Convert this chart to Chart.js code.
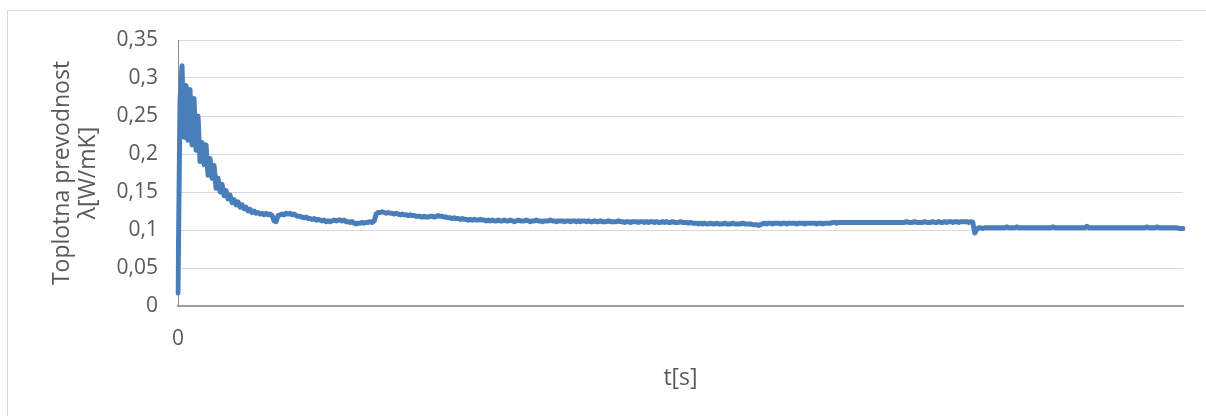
<!DOCTYPE html>
<html>
<head>
<meta charset="utf-8">
<script src="https://cdn.jsdelivr.net/npm/chart.js@4"></script>
<style>
  html, body { margin: 0; padding: 0; background: #ffffff; }
  #wrap { position: relative; width: 1206px; height: 416px; }
</style>
</head>
<body>
<div id="wrap"><canvas id="chart" width="1206" height="416"></canvas></div>
<script>
// Thermal conductivity λ [W/mK] logged over time, one sample per step.
// Start-up transient: steep rise, noisy peak, then decay.
const lambdaRise = [
  0.017, 0.27, 0.316, 0.222, 0.29, 0.218, 0.285, 0.212, 0.273, 0.205,
  0.25, 0.19, 0.215, 0.186, 0.212, 0.172, 0.194, 0.168, 0.185, 0.155,
  0.168, 0.15, 0.16, 0.145, 0.152, 0.141, 0.146, 0.136, 0.14, 0.133,
  0.137, 0.13, 0.133, 0.128, 0.13, 0.125, 0.127, 0.123, 0.125, 0.122,
  0.123, 0.121, 0.122, 0.12, 0.122, 0.12, 0.121, 0.119
];
// First plateau, slowly sinking.
const lambdaFirstPlateau = [
  0.112, 0.111, 0.119, 0.12, 0.121, 0.12, 0.122, 0.121, 0.122, 0.12,
  0.121, 0.119, 0.118, 0.118, 0.117, 0.116, 0.117, 0.115, 0.115, 0.114,
  0.115, 0.113, 0.114, 0.113, 0.112, 0.113, 0.111, 0.112, 0.111, 0.112,
  0.113, 0.112, 0.113, 0.113, 0.112, 0.113, 0.111, 0.111, 0.11, 0.111,
  0.109, 0.108, 0.109, 0.109, 0.11, 0.109, 0.11, 0.11, 0.111, 0.11,
  0.112
];
// Small step up, then recovery towards the steady value.
const lambdaRecovery = [
  0.121, 0.123, 0.123, 0.124, 0.123, 0.122, 0.123, 0.122, 0.122, 0.121,
  0.122, 0.121, 0.12, 0.121, 0.12, 0.12, 0.119, 0.12, 0.119, 0.119,
  0.118, 0.118, 0.118, 0.117, 0.118, 0.117, 0.117, 0.118, 0.118, 0.117,
  0.118, 0.119, 0.118, 0.118, 0.117, 0.117, 0.116, 0.116, 0.115, 0.116,
  0.115, 0.115, 0.114, 0.115, 0.114, 0.114, 0.113, 0.114, 0.113, 0.114,
  0.113, 0.113, 0.114, 0.113, 0.113, 0.112, 0.113, 0.112, 0.113, 0.112,
  0.112, 0.113, 0.112
];
// Middle of the run.
const lambdaMid = [
  0.112, 0.113, 0.112, 0.112, 0.113, 0.112, 0.111, 0.112, 0.113, 0.112,
  0.112, 0.112, 0.113, 0.112, 0.111, 0.112, 0.112, 0.113, 0.112, 0.112,
  0.111, 0.112, 0.112, 0.112, 0.113, 0.112, 0.112, 0.111, 0.112, 0.112,
  0.112, 0.111, 0.112, 0.112, 0.111, 0.112, 0.112, 0.111, 0.112, 0.111,
  0.112, 0.112, 0.111, 0.112, 0.111, 0.111, 0.112, 0.111, 0.111, 0.112,
  0.111, 0.111, 0.111, 0.112, 0.111, 0.111, 0.111, 0.111, 0.112, 0.111,
  0.111, 0.11, 0.111, 0.111, 0.11, 0.111, 0.111, 0.111, 0.11, 0.111,
  0.111, 0.11, 0.111, 0.11, 0.111, 0.111, 0.11, 0.111, 0.11, 0.11,
  0.111, 0.11, 0.111, 0.11, 0.11, 0.111, 0.11, 0.11, 0.11, 0.111,
  0.11, 0.11, 0.11, 0.109, 0.11, 0.109, 0.109, 0.109, 0.108, 0.109,
  0.108, 0.109, 0.108, 0.108, 0.109, 0.108, 0.108, 0.109, 0.108, 0.108,
  0.108, 0.109, 0.108, 0.108, 0.108, 0.109, 0.108, 0.108, 0.108, 0.108,
  0.109, 0.108, 0.108, 0.108, 0.108, 0.107, 0.107, 0.107, 0.106, 0.107
];
// Late steady section before the final drop.
const lambdaLateSteady = [
  0.108, 0.109, 0.108, 0.109, 0.109, 0.108, 0.109, 0.109, 0.109, 0.108,
  0.109, 0.109, 0.108, 0.109, 0.109, 0.109, 0.109, 0.108, 0.109, 0.109,
  0.109, 0.108, 0.109, 0.109, 0.109, 0.109, 0.109, 0.108, 0.109, 0.109,
  0.108, 0.109, 0.109, 0.109, 0.109,
  0.11, 0.11, 0.109, 0.11, 0.11, 0.11, 0.11, 0.11, 0.11, 0.11,
  0.11, 0.11, 0.11, 0.11, 0.11, 0.11, 0.11, 0.11, 0.11, 0.11,
  0.11, 0.11, 0.11, 0.11, 0.11, 0.11, 0.11, 0.11, 0.11, 0.11,
  0.11, 0.11, 0.11, 0.11, 0.11, 0.11, 0.11, 0.111, 0.11, 0.11,
  0.11, 0.111, 0.11, 0.11, 0.11, 0.11, 0.111, 0.11, 0.11, 0.11,
  0.111, 0.11, 0.11, 0.111, 0.11, 0.11, 0.111, 0.11, 0.111, 0.111,
  0.11, 0.111, 0.111, 0.11, 0.111, 0.111, 0.111, 0.111, 0.11, 0.111,
  0.11
];
// Final level after the drop.
const lambdaFinal = [
  0.096, 0.101, 0.103, 0.103, 0.102, 0.103, 0.103, 0.103, 0.103, 0.103,
  0.103, 0.103, 0.103, 0.103, 0.103, 0.103, 0.104, 0.103, 0.103, 0.103,
  0.103, 0.104, 0.103, 0.103, 0.103, 0.103, 0.103, 0.103, 0.103, 0.103,
  0.103, 0.103, 0.103, 0.103, 0.103, 0.103, 0.103, 0.103, 0.103, 0.104,
  0.103, 0.103, 0.103, 0.103, 0.103, 0.103, 0.103, 0.103, 0.103, 0.103,
  0.103, 0.103, 0.103, 0.103, 0.103, 0.103, 0.105, 0.103, 0.103, 0.103,
  0.103, 0.103, 0.103, 0.103, 0.103, 0.103, 0.103, 0.103, 0.103, 0.103,
  0.103, 0.103, 0.103, 0.103, 0.103, 0.103, 0.103, 0.103, 0.103, 0.103,
  0.103, 0.103, 0.103, 0.103, 0.103, 0.103, 0.104, 0.103, 0.103, 0.103,
  0.103, 0.104, 0.103, 0.103, 0.103, 0.103, 0.103, 0.103, 0.103, 0.103,
  0.103, 0.103, 0.102, 0.102, 0.102
];

const lambda = [].concat(lambdaRise, lambdaFirstPlateau, lambdaRecovery,
                         lambdaMid, lambdaLateSteady, lambdaFinal);
// Sample numbers along the time axis.
const sampleLabels = lambda.map((_, i) => String(i));

const yAxisTitle = ['Toplotna prevodnost', 'λ[W/mK]'];
const xAxisTitle = 't[s]';

const TEXT = '#595959';
const FONT = '"Open Sans", "Liberation Sans", sans-serif';

// Light frame around the chart object.
const framePlugin = {
  id: 'frame',
  beforeDraw(chart) {
    const ctx = chart.ctx;
    ctx.save();
    ctx.fillStyle = '#ffffff';
    ctx.fillRect(0, 0, chart.width, chart.height);
    ctx.strokeStyle = '#d9d9d9';
    ctx.lineWidth = 1;
    ctx.beginPath();
    ctx.moveTo(7.5, chart.height);
    ctx.lineTo(7.5, 10.5);
    ctx.lineTo(chart.width, 10.5);
    ctx.stroke();
    ctx.restore();
  }
};

new Chart(document.getElementById('chart'), {
  type: 'line',
  data: {
    labels: sampleLabels,
    datasets: [{
      data: lambda,
      borderColor: '#4a7ebb',
      borderWidth: 5,
      borderJoinStyle: 'round',
      borderCapStyle: 'round',
      pointRadius: 0,
      tension: 0,
      fill: false
    }]
  },
  options: {
    responsive: false,
    animation: false,
    events: [],
    layout: { padding: { top: 40, right: 23, bottom: 0, left: 0 } },
    plugins: { legend: { display: false }, tooltip: { enabled: false } },
    scales: {
      x: {
        type: 'category',
        offset: false,
        grid: { display: false, drawTicks: false },
        border: { display: true, color: '#a0a0a0', width: 2 },
        ticks: {
          autoSkip: false,
          maxRotation: 0,
          padding: 20,
          color: TEXT,
          font: { family: FONT, size: 21 },
          callback: (v, i) => (i === 0 ? sampleLabels[0] : '')
        },
        title: {
          display: true,
          text: xAxisTitle,
          color: TEXT,
          font: { family: FONT, size: 23, lineHeight: '28px' },
          padding: { top: 0, bottom: 24 }
        },
        afterFit: (s) => { s.height = 110; }
      },
      y: {
        min: 0,
        max: 0.35,
        grid: { color: '#d9d9d9', lineWidth: 1, drawTicks: false },
        border: { display: true, color: '#8c8c8c', width: 1 },
        ticks: {
          stepSize: 0.05,
          padding: 20,
          color: TEXT,
          font: { family: FONT, size: 21 },
          callback: (v) => String(Math.round(v * 100) / 100).replace('.', ',')
        },
        title: {
          display: true,
          text: yAxisTitle,
          color: TEXT,
          font: { family: FONT, size: 23, lineHeight: '26px' },
          padding: { top: 49, bottom: 0 }
        },
        afterFit: (s) => { s.width = 178; }
      }
    }
  },
  plugins: [framePlugin]
});
</script>
</body>
</html>
